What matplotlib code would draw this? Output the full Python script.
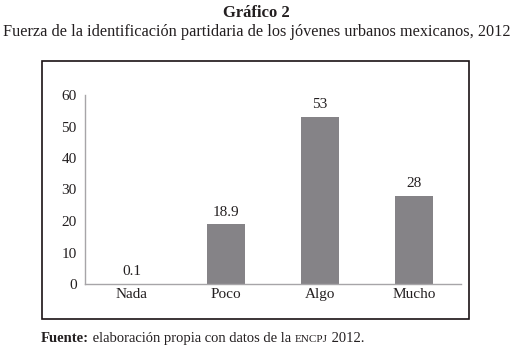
import matplotlib
matplotlib.use("Agg")
import matplotlib.pyplot as plt
from matplotlib.patches import Rectangle

categories = ["Nada", "Poco", "Algo", "Mucho"]
values = [0.1, 18.9, 53, 28]
value_labels = ["0.1", "18.9", "53", "28"]
yticks = [0, 10, 20, 30, 40, 50, 60]

W, H = 513, 363
plt.rcParams["font.family"] = ["Liberation Serif", "DejaVu Serif"]
TXT = "#231f20"
BAR = "#858387"
AXC = "#a7a5a8"

fig = plt.figure(figsize=(W / 100, H / 100), dpi=100)

# outer frame
fig.patches.append(Rectangle((42 / W, 1 - 319 / H), (469 - 42) / W, (319 - 61) / H,
                             transform=fig.transFigure, fill=False, lw=1.2, ec="#1a1214"))

ax = fig.add_axes([85 / W, 1 - 284 / H, (461 - 85) / W, (284 - 95) / H])
x = range(len(categories))
ax.bar(x, values, width=0.41, color=BAR)
ax.set_xlim(-0.5, len(categories) - 0.5)
ax.set_ylim(0, 60)
ax.set_yticks(yticks)
ax.set_xticks(list(x))
ax.set_xticklabels(categories)
for s in ("top", "right"):
    ax.spines[s].set_visible(False)
for s in ("left", "bottom"):
    ax.spines[s].set_color(AXC)
    ax.spines[s].set_linewidth(1.0)
ax.tick_params(length=0, labelsize=11, colors=TXT, pad=6)
ax.tick_params(axis="x", pad=3)
for xi, v, lab in zip(x, values, value_labels):
    ax.annotate(lab, (xi, v), xytext=(0, 4), textcoords="offset points",
                ha="center", va="bottom", fontsize=11, color=TXT)

fig.text(0.5, 1 - 13 / H, "Gráfico 2", ha="center", va="center",
         fontsize=12, fontweight="bold", color=TXT)
sub = fig.text(0.5, 1 - 32 / H,
               "Fuerza de la identificación partidaria de los jóvenes urbanos mexicanos, 2012",
               ha="center", va="center", fontsize=12, color=TXT)

fig.canvas.draw()
r = fig.canvas.get_renderer()
# fit subtitle to the width it takes in the original
w = sub.get_window_extent(r).width
sub.set_fontsize(12 * 505 / w)

# footer with small caps
yb = 1 - 342 / H
xp = 41
parts = [("Fuente:", 10.5, "bold"), (" elaboración propia con datos de la ", 10.5, "normal"),
         ("ENCPJ", 8, "normal"), (" 2012.", 10.5, "normal")]
for s, fs, fw in parts:
    t = fig.text(xp / W, yb, s, ha="left", va="baseline", fontsize=fs, fontweight=fw, color=TXT)
    xp += t.get_window_extent(r).width

fig.savefig("out.png", dpi=100)
